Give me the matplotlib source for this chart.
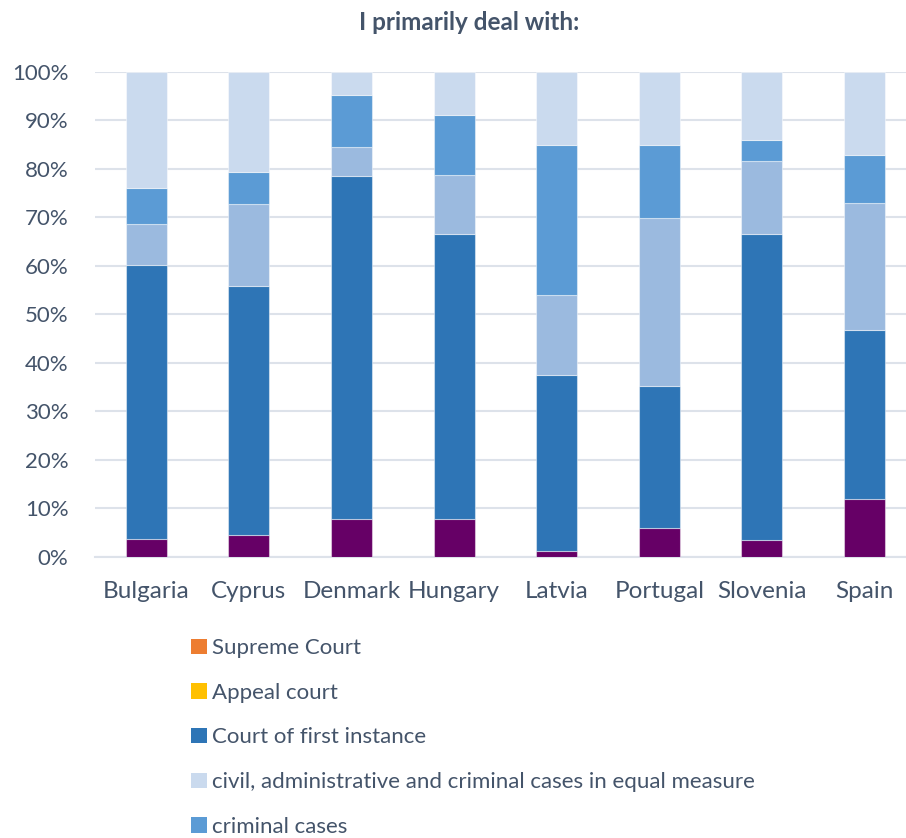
import matplotlib
matplotlib.use("Agg")
import matplotlib.pyplot as plt
from matplotlib.patches import Patch
import numpy as np

plt.rcParams['font.family'] = ['Lato', 'DejaVu Sans']

countries = ["Bulgaria", "Cyprus", "Denmark", "Hungary", "Latvia", "Portugal", "Slovenia", "Spain"]

# shares in percent, stacked bottom to top
supreme_court = [0, 0, 0, 0, 0, 0, 0, 0]
appeal_court = [0, 0, 0, 0, 0, 0, 0, 0]
other_cases = [3.8, 4.5, 7.8, 7.8, 1.2, 6.0, 3.5, 11.9]
first_instance = [56.4, 51.4, 70.8, 58.7, 36.4, 29.3, 63.0, 34.8]
mixed_cases = [8.4, 16.8, 5.8, 12.2, 16.4, 34.6, 15.0, 26.3]
criminal_cases = [7.4, 6.6, 10.7, 12.4, 30.8, 14.9, 4.4, 9.8]
equal_measure = [24.0, 20.7, 4.9, 8.9, 15.2, 15.2, 14.1, 17.2]

y_ticks = [0, 10, 20, 30, 40, 50, 60, 70, 80, 90, 100]
y_tick_labels = ["0%", "10%", "20%", "30%", "40%", "50%", "60%", "70%", "80%", "90%", "100%"]

text_color = "#44546A"
grid_color = "#DDE2EA"

series = [
    (supreme_court, "#ED7D31"),
    (appeal_court, "#FFC000"),
    (other_cases, "#660066"),
    (first_instance, "#2E75B6"),
    (mixed_cases, "#9BBADF"),
    (criminal_cases, "#5B9BD5"),
    (equal_measure, "#CADAEE"),
]

fig = plt.figure(figsize=(9.06, 8.38), dpi=100)
ax = fig.add_axes([95 / 906, 1 - 557 / 838, (915.8 - 95) / 906, (557 - 71.7) / 838])

x = np.arange(len(countries))
bottom = np.zeros(len(countries))
for values, color in series:
    vals = np.array(values, dtype=float)
    ax.bar(x, vals, width=0.4, bottom=bottom, color=color,
           edgecolor=(1, 1, 1, 0.45), linewidth=0.8, zorder=3)
    bottom += vals

ax.set_xlim(-0.5, len(countries) - 0.5)
ax.set_ylim(0, 100)
ax.set_yticks(y_ticks)
ax.set_yticklabels(y_tick_labels)
ax.set_xticks(x)
ax.set_xticklabels(countries)
ax.tick_params(axis="both", length=0, labelcolor=text_color)
ax.tick_params(axis="y", labelsize=16, pad=19)
ax.tick_params(axis="x", labelsize=17.5, pad=17)
ax.yaxis.grid(True, color=grid_color, linewidth=1.5, zorder=0)
for side in ["top", "right", "left"]:
    ax.spines[side].set_visible(False)
ax.spines["bottom"].set_color(grid_color)
ax.spines["bottom"].set_linewidth(1.5)

fig.text(469 / 906, 1 - 23 / 838, "I primarily deal with:", ha="center", va="center",
         fontsize=17.5, fontweight="bold", color=text_color)

handles = [
    Patch(facecolor="#ED7D31", label="Supreme Court"),
    Patch(facecolor="#FFC000", label="Appeal court"),
    Patch(facecolor="#2E75B6", label="Court of first instance"),
    Patch(facecolor="#CADAEE", label="civil, administrative and criminal cases in equal measure"),
    Patch(facecolor="#5B9BD5", label="criminal cases"),
]
fig.legend(handles=handles, loc="upper left", bbox_to_anchor=(180 / 906, 1 - 627 / 838),
           frameon=False, fontsize=16, labelcolor=text_color,
           handlelength=0.7, handleheight=0.7, handletextpad=0.25,
           labelspacing=1.11, borderpad=0)

fig.savefig("out.png", dpi=100)
